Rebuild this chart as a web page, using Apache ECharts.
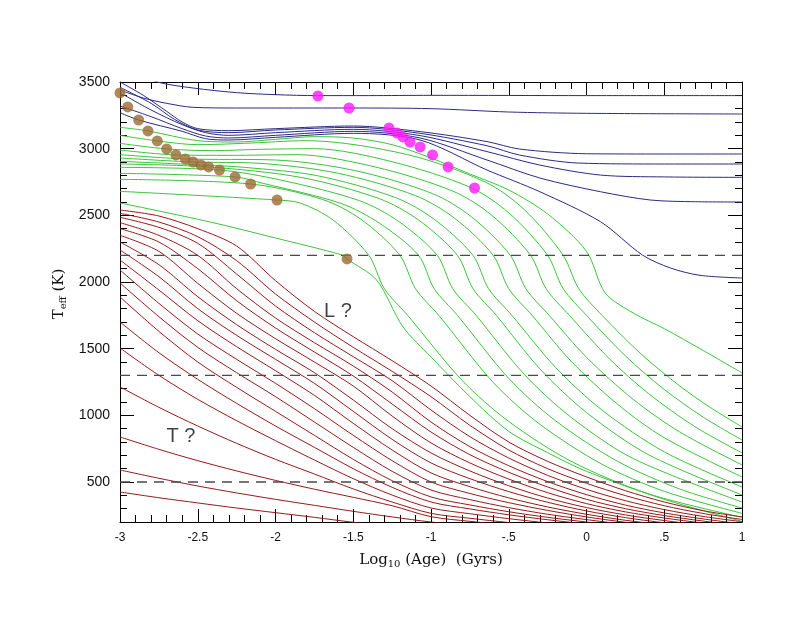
<!DOCTYPE html>
<html><head><meta charset="utf-8">
<script src="https://cdn.jsdelivr.net/npm/echarts@6/dist/echarts.min.js"></script>
<style>html,body{margin:0;padding:0;background:#fff}#c{width:805px;height:623px}</style>
</head><body><div id="c"></div>
<script>
// ---------- DATA ----------
const yMajorTicks = [500, 1000, 1500, 2000, 2500, 3000, 3500];
const dashedLevels = [2200, 1300, 500];

// Blue tracks (stellar masses)
const blue1X = [-2.85, -2.76, -2.53, -2.25, -2.0, -1.73, -1.4, -1.0, 0, 1];
const blue1Y = [3560, 3500, 3455, 3420, 3405, 3398, 3398, 3400, 3398, 3398];
const blue2X = [-3, -2.85, -2.7, -2.53, -2.25, -2.0, -1.52, -1.0, -0.5, 0, 1];
const blue2Y = [3440, 3380, 3340, 3310, 3305, 3305, 3305, 3300, 3275, 3265, 3260];
const blue3X = [-3, -2.85, -2.7, -2.6, -2.5, -2.3, -2.0, -1.5, -1.07, -0.64, -0.43, 0, 0.5, 1];
const blue3Y = [3500, 3400, 3280, 3200, 3150, 3135, 3150, 3170, 3128, 3053, 2997, 2962, 2960, 2960];
const blue4X = [-3, -2.8, -2.65, -2.5, -2.3, -2.0, -1.5, -1.07, -0.64, -0.43, -0.05, 0.5, 1];
const blue4Y = [3460, 3340, 3220, 3140, 3120, 3140, 3160, 3115, 3022, 2952, 2892, 2885, 2885];
const blue5X = [-3, -2.8, -2.6, -2.45, -2.3, -2.0, -1.5, -1.07, -0.64, -0.3, 0.09, 0.5, 1];
const blue5Y = [3420, 3290, 3180, 3120, 3100, 3120, 3145, 3098, 2978, 2877, 2802, 2788, 2785];
const blue6X = [-3, -2.8, -2.6, -2.45, -2.3, -2.0, -1.5, -1.07, -0.64, -0.3, 0.09, 0.41, 0.7, 1];
const blue6Y = [3320, 3240, 3150, 3095, 3080, 3100, 3130, 3080, 2915, 2780, 2677, 2615, 2602, 2600];
const blue7X = [-3, -2.88, -2.6, -2.45, -2.3, -2.0, -1.5, -1.07, -0.64, -0.3, 0.09, 0.36, 0.54, 0.73, 1];
const blue7Y = [3270, 3215, 3130, 3075, 3065, 3085, 3115, 3065, 2840, 2677, 2452, 2202, 2105, 2050, 2030];

// Green tracks (brown dwarfs)
const green1X = [-3, -2.82, -2.5, -2.25, -2, -1.75, -1.5, -1.25, -1, -0.75, -0.5, -0.25, 0, 0.12, 0.3, 0.5, 0.75, 1];
const green1Y = [3160, 3133, 3060, 3050, 3070, 3090, 3080, 3030, 2930, 2810, 2690, 2510, 2230, 1918, 1768, 1650, 1487, 1318];
const green2X = [-3, -2.76, -2.5, -2.2, -1.8, -1.15, -0.65, -0.4, -0.15, -0.05, 0.1, 0.35, 0.6, 0.8, 1];
const green2Y = [3100, 3058, 3030, 3040, 3060, 2955, 2749, 2543, 2200, 1950, 1750, 1461, 1220, 1056, 913];
const green3X = [-3, -2.7, -2.4, -2.1, -1.75, -1.25, -0.75, -0.5, -0.25, -0.15, 0, 0.25, 0.5, 0.75, 1];
const green3Y = [3040, 2998, 2985, 2995, 3000, 2902, 2711, 2519, 2200, 1950, 1750, 1446, 1194, 987, 815];
const green4X = [-3, -2.64, -2.3, -1.86, -1.36, -0.86, -0.61, -0.36, -0.26, -0.11, 0.15, 0.4, 0.7, 1];
const green4Y = [2990, 2953, 2950, 2955, 2863, 2682, 2501, 2200, 1950, 1750, 1421, 1162, 913, 718];
const green5X = [-3, -2.58, -2.0, -1.49, -0.99, -0.74, -0.49, -0.39, -0.24, 0, 0.3, 0.6, 1];
const green5Y = [2955, 2923, 2915, 2836, 2663, 2489, 2200, 1950, 1750, 1435, 1120, 875, 628];
const green6X = [-3, -2.53, -2.1, -1.6, -1.1, -0.85, -0.6, -0.5, -0.35, -0.1, 0.2, 0.5, 1];
const green6Y = [2930, 2900, 2890, 2816, 2648, 2480, 2200, 1950, 1750, 1407, 1083, 832, 538];
const green7X = [-3, -2.48, -2.2, -1.73, -1.23, -0.98, -0.73, -0.63, -0.48, -0.2, 0.1, 0.5, 1];
const green7Y = [2905, 2878, 2860, 2797, 2634, 2471, 2200, 1950, 1750, 1361, 1039, 726, 463];
const green8X = [-3, -2.43, -1.83, -1.33, -1.08, -0.83, -0.73, -0.58, -0.3, 0, 0.4, 1];
const green8Y = [2885, 2863, 2783, 2624, 2465, 2200, 1950, 1750, 1349, 1021, 704, 403];
const green9X = [-3, -2.36, -1.96, -1.46, -1.21, -0.96, -0.86, -0.71, -0.4, -0.1, 0.3, 1];
const green9Y = [2860, 2840, 2763, 2610, 2456, 2200, 1950, 1750, 1307, 986, 676, 350];
const green10X = [-3, -2.26, -2.08, -1.58, -1.33, -1.08, -0.98, -0.83, -0.5, -0.2, 0.2, 0.6, 1];
const green10Y = [2815, 2788, 2740, 2590, 2440, 2200, 1950, 1750, 1277, 960, 655, 447, 305];
const green11X = [-3, -2.16, -1.7, -1.45, -1.2, -1.1, -0.95, -0.6, -0.3, 0.1, 0.5, 1];
const green11Y = [2770, 2735, 2620, 2470, 2200, 1950, 1750, 1247, 933, 633, 430, 265];
const green12X = [-3, -1.99, -1.84, -1.63, -1.4, -1.3, -1.15, -0.8, -0.5, -0.1, 0.4, 1];
const green12Y = [2680, 2615, 2592, 2465, 2200, 1950, 1750, 1262, 954, 656, 411, 235];
const green13X = [-3, -2.42, -2, -1.57, -1.54, -1.35, -1.18, -1.0, -0.75, -0.5, -0.25, 0, 0.5, 1];
const green13Y = [2593, 2450, 2330, 2202, 2172, 2015, 1663, 1438, 1140, 880, 720, 580, 370, 205];

// Red tracks (planetary masses), common age grid
const redX = [-3, -2.75, -2.5, -2.25, -2, -1.75, -1.5, -1.25, -1, -0.75, -0.5, -0.25, 0, 0.25, 0.5, 0.75, 1];
const red1 = [2540, 2495, 2400, 2270, 2010, 1780, 1590, 1410, 1220, 1000, 800, 655, 538, 435, 350, 285, 238];
const red2 = [2515, 2450, 2340, 2160, 1910, 1700, 1510, 1330, 1140, 925, 740, 600, 490, 398, 322, 264, 219];
const red3 = [2485, 2410, 2290, 2060, 1820, 1620, 1440, 1260, 1040, 840, 680, 550, 445, 360, 293, 242, 202];
const red4 = [2445, 2350, 2200, 1950, 1730, 1545, 1370, 1175, 950, 765, 622, 503, 405, 327, 268, 223, 186];
const red5 = [2400, 2300, 2100, 1860, 1655, 1475, 1295, 1085, 875, 705, 573, 463, 370, 300, 248, 207, 172];
const red6 = [2350, 2230, 1990, 1765, 1575, 1400, 1220, 995, 793, 643, 522, 420, 338, 276, 230, 192, 160];
const red7 = [2300, 2130, 1890, 1680, 1495, 1320, 1115, 900, 718, 583, 472, 380, 308, 253, 211, 176, 147];
const red8 = [2240, 2040, 1800, 1600, 1420, 1240, 1030, 820, 643, 525, 428, 348, 283, 233, 194, 162, 135];
const red9 = [2165, 1940, 1710, 1515, 1335, 1150, 940, 740, 568, 465, 381, 313, 258, 213, 178, 148, 124];
const red10 = [2090, 1840, 1610, 1420, 1240, 1050, 850, 660, 500, 414, 345, 287, 238, 198, 165, 138, 115];
const red11 = [1993, 1740, 1510, 1320, 1140, 950, 760, 580, 440, 368, 308, 258, 218, 182, 152, 127, 106];
const red12 = [1888, 1630, 1400, 1210, 1030, 850, 670, 510, 388, 328, 277, 235, 200, 168, 141, 118, 99];
const red13 = [1700, 1470, 1270, 1090, 920, 760, 600, 460, 350, 298, 254, 217, 185, 157, 132, 111, 93];
const red14 = [1505, 1300, 1120, 960, 810, 665, 525, 402, 305, 262, 225, 193, 165, 140, 118, 100, 84];
const red15 = [1213, 1060, 920, 790, 670, 560, 448, 350, 265, 228, 196, 168, 144, 124, 107, 92, 80];
const red16 = [838, 745, 660, 583, 512, 446, 385, 322, 240, 205, 178, 155, 135, 118, 103, 90, 79];
const red17 = [590, 528, 470, 418, 370, 325, 280, 238, 200, 172, 150, 130, 113, 98, 86, 75, 66];
const red18 = [425, 382, 343, 305, 270, 235, 198, 170, 148, 130, 114, 100, 88, 78, 69, 61, 54];

// Brown dots (deuterium) and magenta dots (lithium)
const deutX = [-3.0, -2.95, -2.88, -2.82, -2.76, -2.70, -2.64, -2.58, -2.53, -2.48, -2.43, -2.36, -2.26, -2.16, -1.99, -1.54];
const deutY = [3418, 3313, 3215, 3133, 3058, 2998, 2953, 2923, 2900, 2878, 2863, 2840, 2788, 2735, 2615, 2173];
const lithX = [-1.727, -1.527, -1.27, -1.22, -1.18, -1.135, -1.07, -0.99, -0.89, -0.72];
const lithY = [3395, 3305, 3155, 3118, 3088, 3050, 3013, 2953, 2863, 2705];

// Region annotations
const annotTexts = ['L ?', 'T ?'];
const annotX = [-1.598, -2.608];
const annotY = [1782, 845];

// ---------- CHART ----------
const BLUE = '#2b2b86', GREEN = '#3cc43c', RED = '#951a1a';
const SANS = 'Liberation Sans, Arial, sans-serif';
const SERIF = 'DejaVu Serif, serif';
const pairs = (xs, ys) => xs.map((x, i) => [x, ys[i]]);
const track = (data, color) => ({
  type: 'line', data, symbol: 'none', smooth: 0.3,
  lineStyle: { color, width: 1 }, clip: true, silent: true, z: 2
});
const series = [];
[[blue1X, blue1Y], [blue2X, blue2Y], [blue3X, blue3Y], [blue4X, blue4Y], [blue5X, blue5Y], [blue6X, blue6Y], [blue7X, blue7Y]]
  .forEach(([x, y]) => series.push(track(pairs(x, y), BLUE)));
[[green1X, green1Y], [green2X, green2Y], [green3X, green3Y], [green4X, green4Y], [green5X, green5Y], [green6X, green6Y],
 [green7X, green7Y], [green8X, green8Y], [green9X, green9Y], [green10X, green10Y], [green11X, green11Y], [green12X, green12Y], [green13X, green13Y]]
  .forEach(([x, y]) => series.push(track(pairs(x, y), GREEN)));
[red1, red2, red3, red4, red5, red6, red7, red8, red9, red10, red11, red12, red13, red14, red15, red16, red17, red18]
  .forEach(r => series.push(track(pairs(redX, r), RED)));
dashedLevels.forEach(lv => series.push({
  type: 'line', data: [[-3, lv], [1, lv]], symbol: 'none', silent: true, z: 3,
  lineStyle: { color: '#4a4a4a', width: 1.3, type: [10, 7] }
}));
series.push({ type: 'scatter', data: pairs(deutX, deutY), symbol: 'circle', symbolSize: 11,
  itemStyle: { color: '#9b6a32' }, z: 5, silent: true });
series.push({ type: 'scatter', data: pairs(lithX, lithY), symbol: 'circle', symbolSize: 11,
  itemStyle: { color: '#ff19ff' }, z: 5, silent: true });
series.push({ type: 'scatter', symbolSize: 1, itemStyle: { color: 'rgba(0,0,0,0)' }, z: 6, silent: true,
  data: annotTexts.map((t, i) => ({ name: t, value: [annotX[i], annotY[i]] })),
  label: { show: true, position: 'inside', formatter: p => p.name, fontSize: 20, color: '#111', fontFamily: SANS } });

const tickFmtX = v => {
  if (Math.abs(v) < 1e-9) return '0';
  const s = String(Math.abs(+v.toFixed(2))).replace(/^0\./, '.');
  return (v < 0 ? '-' : '') + s;
};
const baseX = (pos, labels) => ({
  type: 'value', min: -3, max: 1, interval: 0.5, position: pos, gridIndex: 0,
  axisLine: { show: true, onZero: false, lineStyle: { color: '#000', width: 1 } },
  axisTick: { show: true, inside: true, length: 13, lineStyle: { color: '#000' } },
  minorTick: { show: true, splitNumber: 5, length: 7, lineStyle: { color: '#000' } },
  splitLine: { show: false },
  axisLabel: labels ? { show: true, formatter: tickFmtX, color: '#111', fontSize: 12, margin: 10, fontFamily: SANS }
                    : { show: false }
});
const baseYMinor = (pos, labels) => ({
  type: 'value', min: 200, max: 3500, interval: 100, position: pos, gridIndex: 0,
  axisLine: { show: true, onZero: false, lineStyle: { color: '#000', width: 1 } },
  axisTick: { show: true, inside: true, length: 7, lineStyle: { color: '#000' } },
  splitLine: { show: false },
  axisLabel: labels ? { show: true, interval: 0, margin: 10, color: '#111', fontSize: 14, fontFamily: SANS,
    formatter: v => (yMajorTicks.indexOf(v) >= 0 ? String(v) : '') } : { show: false }
});
// Overlay axes (second grid, same pixel scale) to draw the longer major ticks every 500 K
const baseYMajor = pos => ({
  type: 'value', min: yMajorTicks[0], max: yMajorTicks[yMajorTicks.length - 1], interval: 500,
  position: pos, gridIndex: 1,
  axisLine: { show: false, onZero: false }, splitLine: { show: false }, axisLabel: { show: false },
  axisTick: { show: true, inside: true, length: 14, lineStyle: { color: '#000' } }
});

const xBottom = baseX('bottom', true);
xBottom.name = '{a|Log}{s|10}{a| (Age)  (Gyrs)}';
xBottom.nameLocation = 'middle';
xBottom.nameGap = 30;
xBottom.nameTextStyle = { rich: {
  a: { fontFamily: SERIF, fontSize: 15, color: '#111' },
  s: { fontFamily: SERIF, fontSize: 10, color: '#111', padding: [7, 0, 0, 0] } } };

const yLeft = baseYMinor('left', true);
yLeft.name = '{a|T}{s|eff}{a| (K)}';
yLeft.nameLocation = 'middle';
yLeft.nameRotate = 90;
yLeft.nameGap = 50;
yLeft.nameTextStyle = { padding: [0, 0, 0, 16], rich: {
  a: { fontFamily: SERIF, fontSize: 15, color: '#111' },
  s: { fontFamily: SERIF, fontSize: 10, color: '#111', padding: [7, 0, 0, 0] } } };

const option = {
  animation: false,
  backgroundColor: '#ffffff',
  grid: [
    { left: 120, right: 63, top: 82, bottom: 101, containLabel: false },
    { left: 120, right: 63, top: 82, bottom: 141, containLabel: false }
  ],
  xAxis: [xBottom, baseX('top', false),
    { type: 'value', min: -3, max: 1, gridIndex: 1, show: false }],
  yAxis: [yLeft, baseYMinor('right', false), baseYMajor('left'), baseYMajor('right')],
  series
};
const chart = echarts.init(document.getElementById('c'), null, { renderer: 'canvas' });
chart.setOption(option);
</script>
</body></html>
